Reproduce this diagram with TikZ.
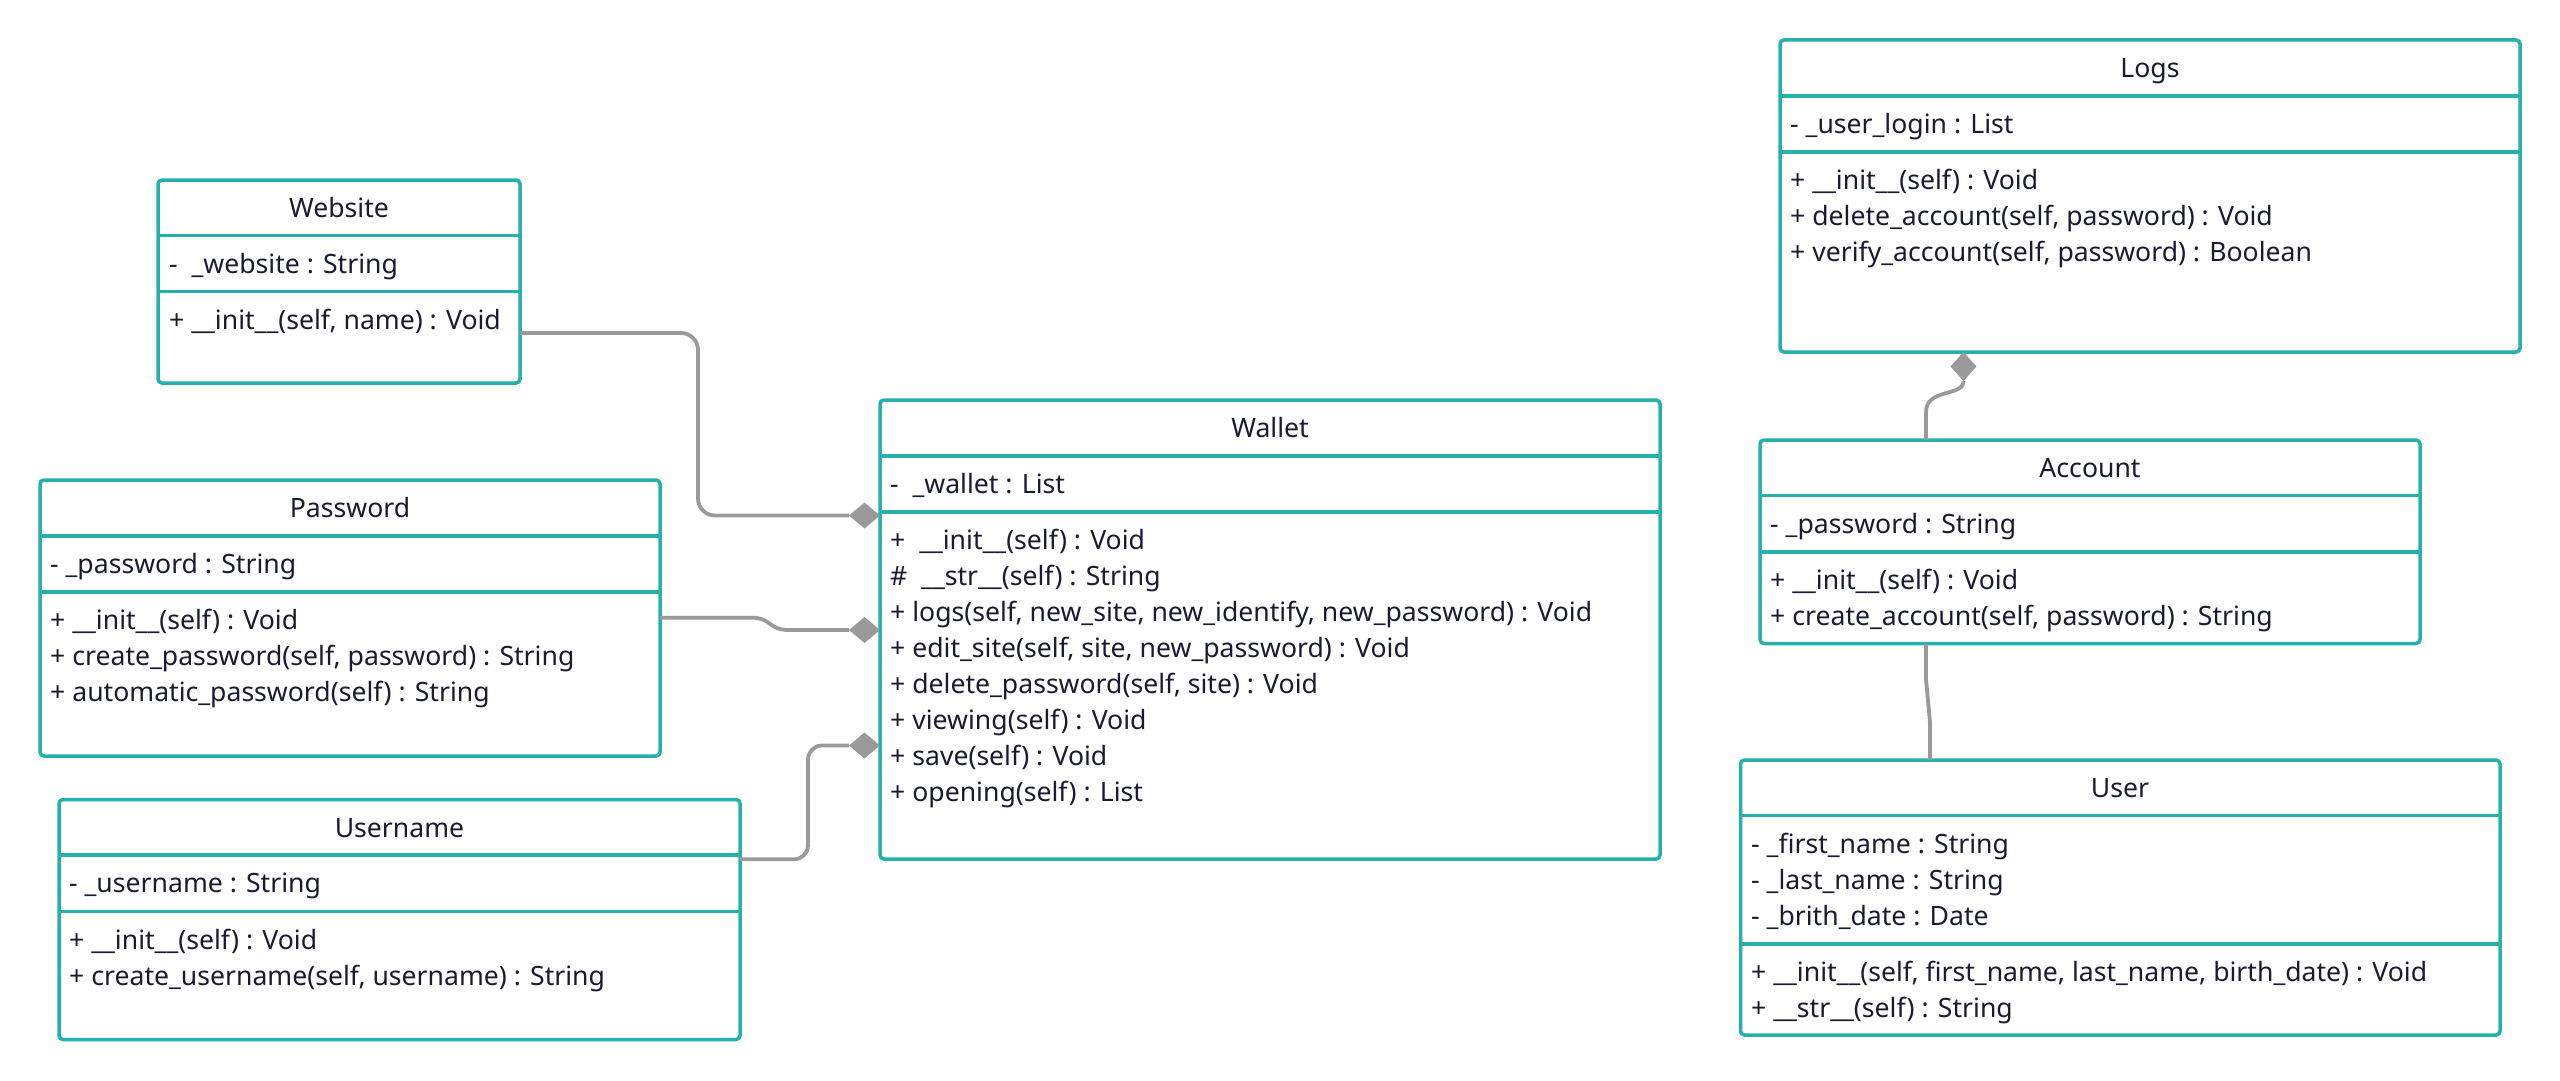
\documentclass[tikz,border=0pt]{standalone}
\usepackage{fontspec}
\setmainfont{Noto Sans}
\usetikzlibrary{shapes.geometric,calc}

\definecolor{umlteal}{RGB}{38,176,173}
\definecolor{linkgray}{RGB}{154,154,154}
\definecolor{ink}{RGB}{26,26,51}

\tikzset{
  classbox/.style={draw=umlteal, fill=white, line width=3.5pt, rounded corners=4pt,
    inner sep=0pt, outer sep=0pt},
  divider/.style={draw=umlteal, line width=3.5pt},
  titletext/.style={anchor=base, inner sep=0pt, text=ink, font=\fontsize{26.6}{36}\selectfont},
  rowtext/.style={anchor=base west, inner sep=0pt, text=ink, font=\fontsize{26.6}{36}\selectfont},
  conn/.style={draw=linkgray, line width=3.8pt},
  agg/.style={shape=diamond, fill=linkgray, draw=none, inner sep=0pt, outer sep=0pt,
    minimum width=31pt, minimum height=26pt},
  aggv/.style={shape=diamond, fill=linkgray, draw=none, inner sep=0pt, outer sep=0pt,
    minimum width=26pt, minimum height=29pt},
}

% class frame: name, left, top, right, bottom, header rule, attribute rule
\newcommand\umlframe[7]{%
  \node[classbox, minimum width={#4-#2}, minimum height={#5-#3}] (#1) at ({(#2+#4)/2},{(#3+#5)/2}) {};
  \draw[divider] (#2,#6) -- (#4,#6);
  \draw[divider] (#2,#7) -- (#4,#7);
}
% text rows: name prefix, x, first baseline, {row},{row},...
\newcommand\umlrows[4]{%
  \foreach \t [count=\i from 0] in {#4}{\node[rowtext] (#1-\i) at (#2,{#3+36*\i}) {\t};}
}

\begin{document}
\begin{tikzpicture}[x=1pt, y=-1pt]
\useasboundingbox (0,0) rectangle (2560,1081);

% ---------- Website ----------
\umlframe{website}{158}{180}{520}{383}{235.5}{291.5}
\node[titletext] (website-title) at (339,217.5) {Website};
\umlrows{website-attr}{169}{273}{{-\ \ \_website : String}}
\umlrows{website-op}{169}{329}{{+ \_\_init\_\_(self, name) : Void}}

% ---------- Password ----------
\umlframe{password}{40}{480}{660}{756}{536}{592}
\node[titletext] (password-title) at (350,517.5) {Password};
\umlrows{password-attr}{50}{573.5}{{- \_password : String}}
\umlrows{password-op}{50}{629.5}{{+ \_\_init\_\_(self) : Void},{+ create\_password(self, password) : String},{+ automatic\_password(self) : String}}

% ---------- Username ----------
\umlframe{username}{59}{799.5}{740}{1039.5}{855}{911.5}
\node[titletext] (username-title) at (399.5,837) {Username};
\umlrows{username-attr}{69}{892.5}{{- \_username : String}}
\umlrows{username-op}{69}{949}{{+ \_\_init\_\_(self) : Void},{+ create\_username(self, username) : String}}

% ---------- Wallet ----------
\umlframe{wallet}{880}{400}{1660}{859}{456}{512}
\node[titletext] (wallet-title) at (1270,437.5) {Wallet};
\umlrows{wallet-attr}{890}{493.5}{{-\ \ \_wallet : List}}
\umlrows{wallet-op}{890}{549.5}{{+\ \ \_\_init\_\_(self) : Void},{\#\ \ \_\_str\_\_(self) : String},{+ logs(self, new\_site, new\_identify, new\_password) : Void},{+ edit\_site(self, site, new\_password) : Void},{+ delete\_password(self, site) : Void},{+ viewing(self) : Void},{+ save(self) : Void},{+ opening(self) : List}}

% ---------- Logs ----------
\umlframe{logs}{1780}{40}{2520}{352}{96}{152}
\node[titletext] (logs-title) at (2150,77.5) {Logs};
\umlrows{logs-attr}{1790}{133.5}{{- \_user\_login : List}}
\umlrows{logs-op}{1790}{189.5}{{+ \_\_init\_\_(self) : Void},{+ delete\_account(self, password) : Void},{+ verify\_account(self, password) : Boolean}}

% ---------- Account ----------
\umlframe{account}{1760}{440}{2420}{643.5}{495.5}{552}
\node[titletext] (account-title) at (2090,477.5) {Account};
\umlrows{account-attr}{1770}{533.5}{{- \_password : String}}
\umlrows{account-op}{1770}{589.5}{{+ \_\_init\_\_(self) : Void},{+ create\_account(self, password) : String}}

% ---------- User ----------
\umlframe{user}{1740.5}{760}{2500}{1035}{815.5}{944}
\node[titletext] (user-title) at (2120,797.5) {User};
\umlrows{user-attr}{1751}{853}{{- \_first\_name : String},{- \_last\_name : String},{- \_brith\_date : Date}}
\umlrows{user-op}{1751}{981.5}{{+ \_\_init\_\_(self, first\_name, last\_name, birth\_date) : Void},{+ \_\_str\_\_(self) : String}}

% ---------- aggregation diamonds ----------
\node[agg, anchor=east] (wallet-d1) at (wallet.west |- 0,515.5) {};
\node[agg, anchor=east] (wallet-d2) at (wallet.west |- 0,630) {};
\node[agg, anchor=east] (wallet-d3) at (wallet.west |- 0,745.5) {};
\node[aggv, anchor=north] (logs-d) at (logs.south -| 1963.5,0) {};

% ---------- connector ends on the class frames ----------
\coordinate (website-port) at (website.east |- 0,333);
\coordinate (password-port) at (password.east |- 0,617.7);
\coordinate (username-port) at (username.east |- 0,859.3);
\coordinate (account-top) at (account.north -| 1926,0);
\coordinate (account-bottom) at (account.south -| 1926,0);
\coordinate (user-top) at (user.north -| 1930,0);

% ---------- connectors ----------
\draw[conn, rounded corners=17pt] (website-port) -| ([xshift=-151pt]wallet-d1.west) -- (wallet-d1.west);
\draw[conn] (password-port) -- (751.7,617.7) .. controls (771,617.7) and (769,630) .. (788.3,630) -- (wallet-d2.west);
\draw[conn, rounded corners=14pt] (username-port) -| ([xshift=-41pt]wallet-d3.west) -- (wallet-d3.west);
\draw[conn] (account-top) -- (1926,412) .. controls (1926,388) and (1963.5,397) .. (logs-d.south);
\draw[conn] (account-bottom) -- (1926,679) -- (1930,722.6) -- (user-top);
\end{tikzpicture}
\end{document}
